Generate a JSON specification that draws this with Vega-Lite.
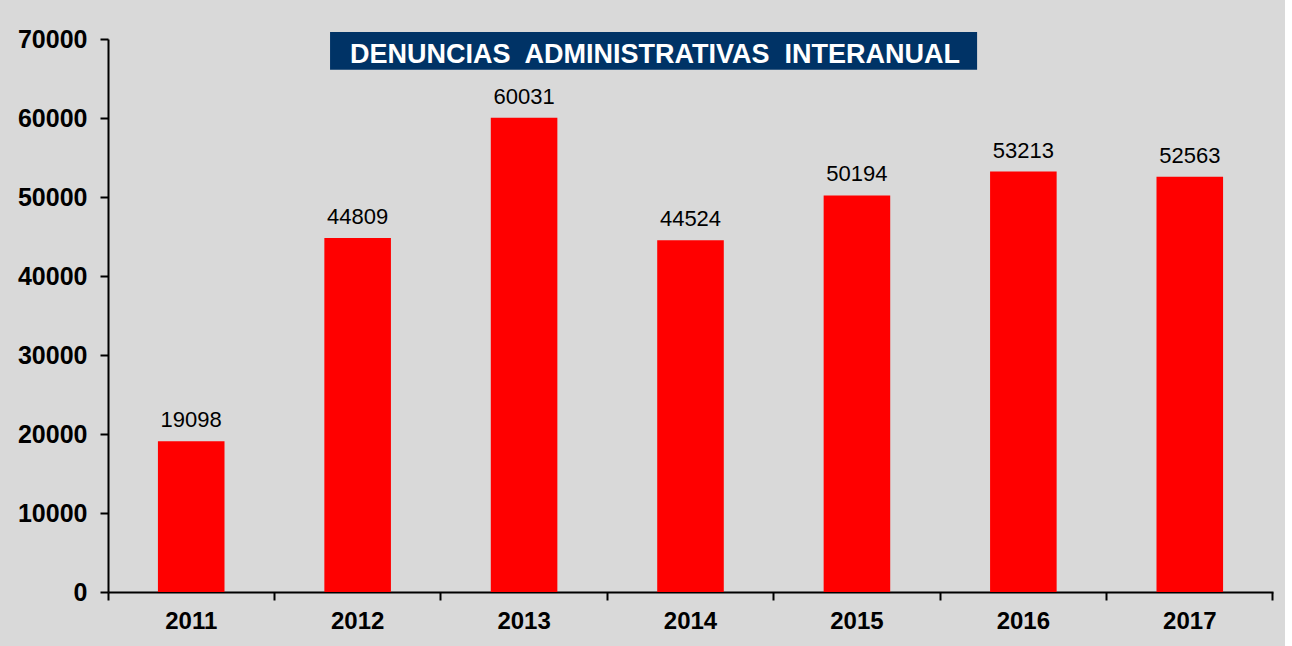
{
  "$schema": "https://vega.github.io/schema/vega-lite/v6.json",
  "width": 1165,
  "height": 553,
  "autosize": "none",
  "padding": {"left": 108, "top": 39, "right": 12, "bottom": 54},
  "background": "#d9d9d9",
  "config": {"view": {"stroke": null}, "font": "Liberation Sans"},
  "layer": [
    {
      "data": {"values": [
        {"year": "2011", "value": 19098},
        {"year": "2012", "value": 44809},
        {"year": "2013", "value": 60031},
        {"year": "2014", "value": 44524},
        {"year": "2015", "value": 50194},
        {"year": "2016", "value": 53213},
        {"year": "2017", "value": 52563}
      ]},
      "encoding": {
        "x": {
          "field": "year", "type": "nominal", "sort": null,
          "scale": {"paddingInner": 0, "paddingOuter": 0},
          "axis": {
            "title": null, "labelAngle": 0, "bandPosition": 1, "tickExtra": true,
            "domainColor": "black", "domainWidth": 2, "tickColor": "black", "tickWidth": 2, "tickSize": 8,
            "labelFont": "Liberation Sans", "labelFontWeight": "bold", "labelFontSize": 24, "labelColor": "black",
            "labelPadding": 9, "labelBaseline": "top"
          }
        },
        "y": {
          "field": "value", "type": "quantitative",
          "scale": {"domain": [0, 70000], "nice": false},
          "axis": {
            "title": null, "grid": false, "values": [0, 10000, 20000, 30000, 40000, 50000, 60000, 70000], "format": "d",
            "domainColor": "black", "domainWidth": 2, "tickColor": "black", "tickWidth": 2, "tickSize": 8,
            "labelFont": "Liberation Sans", "labelFontWeight": "bold", "labelFontSize": 25, "labelColor": "black",
            "labelPadding": 13
          }
        }
      },
      "layer": [
        {"mark": {"type": "bar", "color": "#ff0000", "width": {"band": 0.4}}},
        {"mark": {"type": "text", "baseline": "alphabetic", "dy": -14, "fontSize": 22, "color": "black", "font": "Liberation Sans"},
         "encoding": {"text": {"field": "value", "type": "quantitative", "format": "d"}}}
      ]
    },
    {
      "data": {"values": [
        {"x1": 0.1906, "x2": 0.746, "xm": 0.4695, "y1": 66100, "y2": 70900, "ym": 67975, "label": "DENUNCIAS\u00a0 ADMINISTRATIVAS\u00a0 INTERANUAL"}
      ]},
      "layer": [
        {"mark": {"type": "rect", "color": "#003366", "clip": false},
         "encoding": {
           "x": {"field": "x1", "type": "quantitative", "scale": {"domain": [0, 1], "nice": false, "zero": false}, "axis": null},
           "x2": {"field": "x2"},
           "y": {"field": "y1", "type": "quantitative", "scale": {"domain": [0, 70000], "nice": false}, "axis": null},
           "y2": {"field": "y2"}
         }},
        {"mark": {"type": "text", "color": "white", "fontWeight": "bold", "fontSize": 27, "font": "Liberation Sans", "baseline": "middle", "align": "center"},
         "encoding": {
           "x": {"field": "xm", "type": "quantitative", "scale": {"domain": [0, 1], "nice": false, "zero": false}, "axis": null},
           "y": {"field": "ym", "type": "quantitative", "scale": {"domain": [0, 70000], "nice": false}, "axis": null},
           "text": {"field": "label"}
         }}
      ]
    }
  ],
  "resolve": {"scale": {"x": "independent", "y": "independent"}}
}
